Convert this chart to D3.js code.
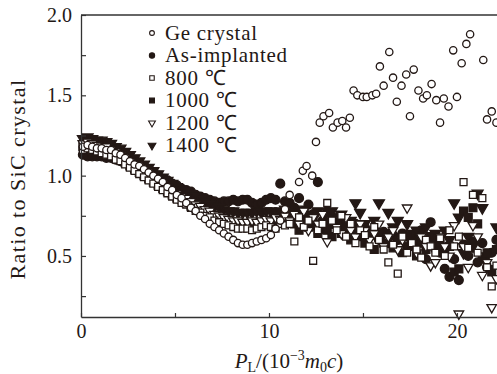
<!DOCTYPE html>
<html>
<head>
<meta charset="utf-8">
<script src="https://cdn.jsdelivr.net/npm/d3@7"></script>
<style>
  body { margin: 0; background: #fff; }
  svg text { font-family: "Liberation Serif", serif; fill: #231815; }
</style>
</head>
<body>
<div id="graph"></div>
<script>
// P_L grid (10^-3 m0 c) shared by the annealed / as-implanted series
const pL = [
  0.10,0.35,0.60,0.85,1.10,1.35,1.60,1.85,2.10,2.35,
  2.60,2.85,3.10,3.35,3.60,3.85,4.10,4.35,4.60,4.85,
  5.10,5.35,5.60,5.85,6.10,6.35,6.60,6.85,7.10,7.35,
  7.60,7.85,8.10,8.35,8.60,8.85,9.10,9.35,9.60,9.85,
  10.10,10.35,10.60,10.85,
  11.10,11.35,11.60,11.85,12.10,12.35,
  12.60,12.85,13.10,13.35,13.60,13.85,14.10,14.35,14.60,14.85,
  15.10,15.35,15.60,15.85,16.10,16.35,16.60,16.85,17.10,17.35,
  17.60,17.85,18.10,18.35,18.60,18.85,19.10,19.35,19.60,19.85,
  20.10,20.35,20.60,20.85,21.10,21.35,21.60,21.85,22.10
];

const asImplanted = [
  1.13,1.12,1.12,1.12,1.12,1.11,1.11,1.10,1.09,1.08,
  1.08,1.07,1.06,1.05,1.03,1.02,1.00,0.98,0.97,0.95,
  0.94,0.92,0.91,0.90,0.88,0.87,0.86,0.85,0.84,0.83,
  0.84,0.84,0.85,0.84,0.85,0.85,0.83,0.82,0.83,0.85,
  0.86,0.85,0.95,0.84,
  0.83,0.80,0.86,0.78,0.82,0.76,
  0.96,0.72,0.78,0.70,0.74,0.68,0.72,0.66,0.70,0.64,
  0.68,0.62,0.66,0.60,0.65,0.58,0.63,0.60,0.64,0.56,
  0.62,0.58,0.66,0.48,0.71,0.58,0.52,0.42,0.37,0.48,
  0.35,0.57,0.50,0.59,0.46,0.58,0.43,0.52,0.60
];

const t800 = [
  1.16,1.17,1.16,1.15,1.14,1.13,1.12,1.10,1.09,1.07,
  1.05,1.03,1.01,0.99,0.97,0.95,0.93,0.91,0.89,0.87,
  0.85,0.83,0.82,0.80,0.78,0.77,0.75,0.74,0.72,0.71,
  0.70,0.69,0.68,0.67,0.67,0.67,0.66,0.67,0.68,0.69,
  0.68,0.67,0.70,0.69,
  0.70,0.59,0.74,0.68,0.72,0.47,
  0.66,0.70,0.83,0.72,0.66,0.75,0.62,0.70,0.58,0.66,
  0.63,0.56,0.68,0.60,0.54,0.46,0.57,0.39,0.62,0.52,
  0.58,0.54,0.49,0.60,0.56,0.52,0.61,0.50,0.66,0.56,
  0.62,0.96,0.55,0.88,0.52,0.86,0.43,0.31,0.44
];

const t1000 = [
  1.18,1.17,1.17,1.16,1.15,1.14,1.13,1.11,1.10,1.08,
  1.06,1.04,1.02,1.00,0.98,0.96,0.94,0.92,0.90,0.88,
  0.86,0.85,0.83,0.81,0.80,0.78,0.77,0.75,0.74,0.73,
  0.72,0.71,0.70,0.70,0.69,0.69,0.70,0.69,0.70,0.71,
  0.71,0.72,0.71,0.72,
  0.74,0.70,0.66,0.72,0.68,0.74,
  0.64,0.70,0.66,0.62,0.70,0.64,0.68,0.60,0.66,0.62,
  0.58,0.64,0.54,0.62,0.58,0.64,0.55,0.60,0.52,0.62,
  0.56,0.50,0.58,0.54,0.62,0.55,0.58,0.52,0.56,0.40,
  0.42,0.78,0.74,0.80,0.70,0.48,0.52,0.40,0.54
];

const t1200 = [
  1.20,1.21,1.20,1.19,1.18,1.18,1.16,1.15,1.13,1.11,
  1.09,1.07,1.05,1.03,1.01,0.99,0.97,0.95,0.93,0.91,
  0.89,0.87,0.86,0.84,0.82,0.81,0.79,0.78,0.76,0.75,
  0.74,0.73,0.72,0.72,0.71,0.71,0.72,0.71,0.72,0.73,
  0.72,0.74,0.73,0.75,
  0.72,0.76,0.70,0.78,0.66,0.74,
  0.70,0.76,0.59,0.72,0.68,0.64,0.74,0.66,0.62,0.70,
  0.66,0.60,0.64,0.70,0.56,0.62,0.66,0.54,0.60,0.80,
  0.58,0.52,0.62,0.56,0.44,0.46,0.62,0.56,0.50,0.69,
  0.14,0.56,0.43,0.69,0.62,0.38,0.46,0.18,0.36
];

const t1400 = [
  1.23,1.24,1.23,1.22,1.22,1.21,1.20,1.18,1.17,1.15,
  1.13,1.11,1.09,1.07,1.05,1.03,1.01,0.99,0.97,0.95,
  0.93,0.91,0.90,0.88,0.87,0.85,0.84,0.82,0.81,0.80,
  0.79,0.78,0.78,0.77,0.77,0.77,0.77,0.78,0.77,0.78,
  0.78,0.77,0.78,0.79,
  0.77,0.74,0.79,0.72,0.76,0.70,
  0.78,0.68,0.74,0.78,0.70,0.76,0.68,0.72,0.83,0.77,
  0.70,0.66,0.72,0.83,0.64,0.77,0.68,0.72,0.62,0.70,
  0.64,0.66,0.60,0.68,0.58,0.64,0.56,0.66,0.60,0.83,
  0.74,0.52,0.62,0.56,0.89,0.80,0.50,0.42,0.68
];

// Ge crystal reference, [P_L, ratio]
const geCrystal = [
  [0.10,1.18],[0.35,1.19],[0.60,1.18],[0.85,1.17],[1.10,1.17],[1.35,1.16],[1.60,1.16],
  [1.85,1.14],[2.10,1.13],[2.35,1.11],[2.60,1.09],[2.85,1.07],[3.10,1.06],[3.35,1.04],
  [3.60,1.02],[3.85,1.00],[4.10,0.98],[4.35,0.96],[4.60,0.93],[4.85,0.91],[5.10,0.88],
  [5.35,0.86],[5.60,0.83],[5.85,0.80],[6.10,0.78],[6.35,0.75],[6.60,0.73],[6.85,0.70],
  [7.10,0.68],[7.35,0.66],[7.60,0.64],[7.85,0.62],[8.10,0.60],[8.35,0.58],[8.60,0.57],
  [8.85,0.57],[9.10,0.58],[9.35,0.59],[9.60,0.60],[9.85,0.61],[10.10,0.63],[10.35,0.67],
  [10.60,0.72],[10.85,0.79],[11.10,0.88],[11.60,0.96],[11.80,1.03],[12.00,1.06],
  [12.30,1.00],[12.50,1.21],[12.70,1.33],[12.90,1.37],[13.20,1.39],[13.40,1.30],
  [13.65,1.33],[13.90,1.34],[14.10,1.30],[14.30,1.36],[14.50,1.53],[14.70,1.50],
  [15.00,1.49],[15.20,1.49],[15.50,1.50],[15.70,1.51],[15.90,1.68],[16.10,1.56],
  [16.40,1.77],[16.60,1.61],[16.80,1.46],[17.05,1.56],[17.30,1.63],[17.50,1.37],
  [17.70,1.66],[17.95,1.53],[18.20,1.48],[18.40,1.50],[18.65,1.57],[18.90,1.47],
  [19.10,1.33],[19.30,1.48],[19.55,1.43],[19.80,1.78],[20.00,1.49],[20.25,1.70],
  [20.50,1.82],[20.70,1.88],[21.40,1.72],[21.60,1.35],[21.85,1.40],[22.10,1.33]
];

const legendLabels = ["Ge crystal", "As-implanted", "800 \u2103", "1000 \u2103", "1200 \u2103", "1400 \u2103"];
const xTicks = [0, 5, 10, 15, 20];
const xTickLabels = ["0", "", "10", "", "20"];
const yTicks = [0.25, 0.5, 0.75, 1.0, 1.25, 1.5, 1.75, 2.0];
const yTickLabels = ["", "0.5", "", "1.0", "", "1.5", "", "2.0"];

const width = 497;
const height = 374;
const ink = "#231815";

const svg = d3.select("#graph")
              .append("svg")
              .attr("width", width)
              .attr("height", height);

const xScale = d3.scaleLinear().domain([0, 22.13]).range([81, 497]);
const yScale = d3.scaleLinear().domain([0.12, 2.0]).range([317, 15]);

// marker shapes
const shapes = {
  openCircle:  { sym: d3.symbolCircle,   size: 42, fill: "#fff", rot: 0 },
  fullCircle:  { sym: d3.symbolCircle,   size: 62, fill: ink,    rot: 0 },
  openSquare:  { sym: d3.symbolSquare,   size: 48, fill: "#fff", rot: 0 },
  fullSquare:  { sym: d3.symbolSquare,   size: 62, fill: ink,    rot: 0 },
  openTri:     { sym: d3.symbolTriangle, size: 40, fill: "#fff", rot: 180 },
  fullTri:     { sym: d3.symbolTriangle, size: 52, fill: ink,    rot: 180 }
};

const series = [
  { name: "As-implanted", shape: "fullCircle", pts: pL.map((p, i) => [p, asImplanted[i]]) },
  { name: "1400", shape: "fullTri",    pts: pL.map((p, i) => [p, t1400[i]]) },
  { name: "1000", shape: "fullSquare", pts: pL.map((p, i) => [p, t1000[i]]) },
  { name: "1200", shape: "openTri",    pts: pL.map((p, i) => [p, t1200[i]]) },
  { name: "800",  shape: "openSquare", pts: pL.map((p, i) => [p, t800[i]]) },
  { name: "Ge",   shape: "openCircle", pts: geCrystal }
];

const plot = svg.append("g");

series.forEach(s => {
  const sh = shapes[s.shape];
  plot.append("g")
      .selectAll("path")
      .data(s.pts)
      .enter()
      .append("path")
      .attr("d", d3.symbol().type(sh.sym).size(sh.size))
      .attr("transform", d => "translate(" + xScale(d[0]) + "," + yScale(d[1]) + ") rotate(" + sh.rot + ")")
      .attr("fill", sh.fill)
      .attr("stroke", ink)
      .attr("stroke-width", 1.3);
});

// axes, ticks pointing into the plot
const xAxis = d3.axisBottom(xScale)
                .tickValues(xTicks)
                .tickFormat((d, i) => xTickLabels[i])
                .tickSizeInner(-4)
                .tickSizeOuter(0)
                .tickPadding(7);

const yAxis = d3.axisLeft(yScale)
                .tickValues(yTicks)
                .tickFormat((d, i) => yTickLabels[i])
                .tickSizeInner(-5)
                .tickSizeOuter(0)
                .tickPadding(9);

const gx = svg.append("g")
   .attr("transform", "translate(0," + 317 + ")")
   .call(xAxis);

const gy = svg.append("g")
   .attr("transform", "translate(" + 81 + ",0)")
   .call(yAxis);

[gx, gy].forEach(g => {
  g.select(".domain").attr("stroke", "#333").attr("stroke-width", 1.3);
  g.selectAll(".tick line").attr("stroke", "#333").attr("stroke-width", 1.2);
  g.selectAll(".tick text")
   .style("font-family", "Liberation Serif")
   .style("font-size", "20px")
   .attr("fill", ink);
});

// top frame line
svg.append("line")
   .attr("x1", 81).attr("x2", 497)
   .attr("y1", 15).attr("y2", 15)
   .attr("stroke", "#333")
   .attr("stroke-width", 1.3);

// legend
const legend = svg.append("g");
const legendShapes = ["openCircle", "fullCircle", "openSquare", "fullSquare", "openTri", "fullTri"];
const legendSizes = [18, 22, 20, 24, 20, 26];

legendLabels.forEach((lab, i) => {
  const sh = shapes[legendShapes[i]];
  const cy = 33 + i * 22.5;
  legend.append("path")
        .attr("d", d3.symbol().type(sh.sym).size(legendSizes[i]))
        .attr("transform", "translate(152," + cy + ") rotate(" + sh.rot + ")")
        .attr("fill", sh.fill)
        .attr("stroke", ink)
        .attr("stroke-width", 1.1);
  legend.append("text")
        .attr("x", 165)
        .attr("y", cy + 6.5)
        .style("font-size", "21px")
        .style("letter-spacing", "0.7px")
        .text(lab);
});

// y label
svg.append("text")
   .attr("transform", "translate(25,179) rotate(-90)")
   .attr("text-anchor", "middle")
   .style("font-size", "22px")
   .style("letter-spacing", "1.4px")
   .text("Ratio to SiC crystal");

// x label: P_L/(10^-3 m_0 c)
const xl = svg.append("text")
   .attr("x", 289)
   .attr("y", 368)
   .attr("text-anchor", "middle")
   .style("font-size", "21px");
xl.append("tspan").style("font-style", "italic").text("P");
xl.append("tspan").attr("dy", 4).style("font-size", "14px").text("L");
xl.append("tspan").attr("dy", -4).text("/(10");
xl.append("tspan").attr("dy", -8).style("font-size", "14px").text("\u22123");
xl.append("tspan").attr("dy", 8).style("font-style", "italic").text("m");
xl.append("tspan").attr("dy", 4).style("font-size", "14px").text("0");
xl.append("tspan").attr("dy", -4).style("font-style", "italic").text("c");
xl.append("tspan").text(")");
</script>
</body>
</html>
